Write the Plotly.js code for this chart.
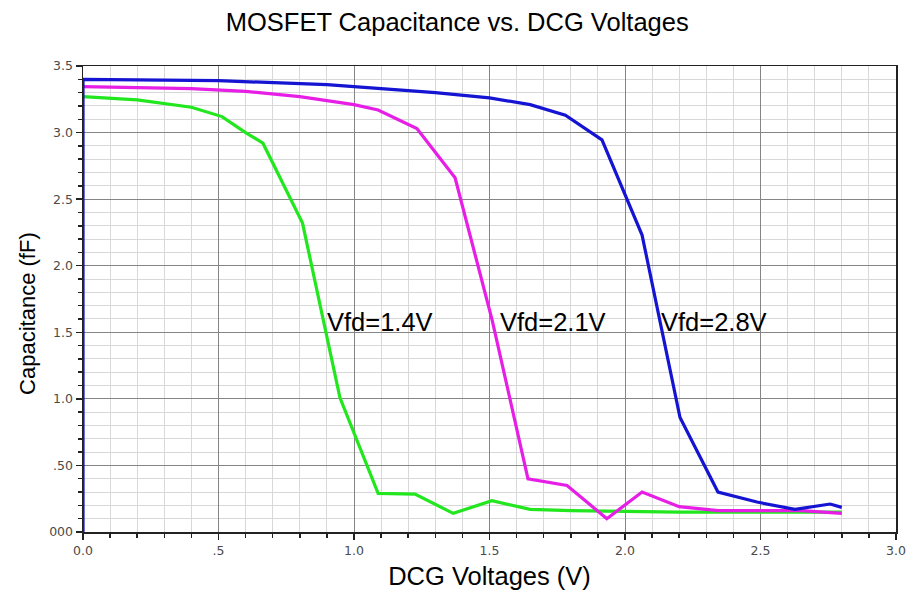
<!DOCTYPE html>
<html>
<head>
<meta charset="utf-8">
<script src="https://cdn.plot.ly/plotly-3.0.1.min.js"></script>
<style>html,body{margin:0;padding:0;background:#fff;}#chart{width:909px;height:590px;}</style>
</head>
<body>
<div id="chart"></div>
<script>
// Data
const greenX = [0.0, 0.2, 0.4, 0.513, 0.60, 0.664, 0.81, 0.948, 1.089, 1.225, 1.366, 1.509, 1.65, 1.8, 2.0, 2.2, 2.5, 2.8];
const greenY = [3.27, 3.245, 3.19, 3.12, 3.0, 2.92, 2.32, 1.01, 0.29, 0.285, 0.14, 0.235, 0.17, 0.16, 0.155, 0.15, 0.15, 0.15];

const magentaX = [0.0, 0.4, 0.6, 0.8, 1.0, 1.089, 1.232, 1.373, 1.51, 1.642, 1.786, 1.933, 2.063, 2.20, 2.343, 2.5, 2.65, 2.8];
const magentaY = [3.345, 3.33, 3.31, 3.27, 3.21, 3.17, 3.03, 2.66, 1.59, 0.40, 0.35, 0.10, 0.30, 0.19, 0.16, 0.16, 0.16, 0.14];

const blueX = [0.0, 0.0, 0.5, 0.9, 1.1, 1.3, 1.5, 1.65, 1.78, 1.915, 2.063, 2.203, 2.343, 2.487, 2.627, 2.757, 2.8];
const blueY = [0.0, 3.40, 3.39, 3.36, 3.33, 3.30, 3.26, 3.21, 3.13, 2.945, 2.23, 0.86, 0.30, 0.225, 0.17, 0.21, 0.185];

const labelText = ["Vfd=1.4V", "Vfd=2.1V", "Vfd=2.8V"];
const labelX = [0.893, 1.533, 2.127];
const labelY = [1.58, 1.58, 1.58];

const xTickVals = [0, 0.5, 1.0, 1.5, 2.0, 2.5, 3.0];
const xTickText = ["0.0", ".5", "1.0", "1.5", "2.0", "2.5", "3.0"];
const yTickVals = [0, 0.5, 1.0, 1.5, 2.0, 2.5, 3.0, 3.5];
const yTickText = ["000", ".50", "1.0", "1.5", "2.0", "2.5", "3.0", "3.5"];

const FONT = "Liberation Sans, Arial, sans-serif";

const traces = [
  {x: greenX, y: greenY, mode: "lines", line: {color: "#22e61e", width: 3.2}, name: "Vfd=1.4V"},
  {x: magentaX, y: magentaY, mode: "lines", line: {color: "#e61ee6", width: 3.2}, name: "Vfd=2.1V"},
  {x: blueX, y: blueY, mode: "lines", line: {color: "#1414d2", width: 3.2}, name: "Vfd=2.8V"}
];

const annotations = labelText.map((t, i) => ({
  x: labelX[i], y: labelY[i], xref: "x", yref: "y", text: t, showarrow: false,
  xanchor: "left", yanchor: "middle",
  font: {family: FONT, size: 25.5, color: "#000"}
}));
annotations.push({
  x: 28, xref: "paper", y: 0.468, yref: "paper", text: "Capacitance (fF)", textangle: -90,
  showarrow: false, xanchor: "center", yanchor: "middle",
  font: {family: FONT, size: 22, color: "#000"}
});
// place y title by pixel: convert x px to paper
annotations[annotations.length - 1].x = (28 - 83) / 813;

const tickFont = {family: "DejaVu Sans, Verdana, sans-serif", size: 12.5, color: "#4a4a4a"};

const layout = {
  width: 909, height: 590,
  margin: {l: 83, r: 13, t: 66, b: 58, pad: 0},
  paper_bgcolor: "#fff", plot_bgcolor: "#fff",
  showlegend: false,
  title: {text: "MOSFET Capacitance vs. DCG Voltages", x: 0.503, xanchor: "center", y: 0.962, yanchor: "middle", yref: "container",
          font: {family: FONT, size: 25.5, color: "#000"}},
  xaxis: {
    range: [0, 3.0], tickvals: xTickVals, ticktext: xTickText,
    ticks: "outside", ticklen: 6, tickwidth: 1.5, tickcolor: "#222",
    showline: true, linecolor: "#222", linewidth: 1.5, mirror: true,
    showgrid: true, gridcolor: "#858585", gridwidth: 1, zeroline: false,
    tickfont: tickFont,
    minor: {dtick: 0.1, tick0: 0, ticks: "outside", ticklen: 4, tickcolor: "#222", showgrid: true, gridcolor: "#d8d8d8", gridwidth: 1},
    title: {text: "DCG Voltages (V)", standoff: 10, font: {family: FONT, size: 25.5, color: "#000"}},
    automargin: false, fixedrange: true
  },
  yaxis: {
    range: [0, 3.5], tickvals: yTickVals, ticktext: yTickText,
    ticks: "outside", ticklen: 6, tickwidth: 1.5, tickcolor: "#222",
    showline: true, linecolor: "#222", linewidth: 1.5, mirror: true,
    showgrid: true, gridcolor: "#858585", gridwidth: 1, zeroline: false,
    tickfont: tickFont,
    minor: {dtick: 0.1, tick0: 0, ticks: "outside", ticklen: 4, tickcolor: "#222", showgrid: true, gridcolor: "#d8d8d8", gridwidth: 1},
    automargin: false, fixedrange: true
  },
  annotations: annotations
};

Plotly.newPlot("chart", traces, layout, {displayModeBar: false, staticPlot: true});
</script>
</body>
</html>
